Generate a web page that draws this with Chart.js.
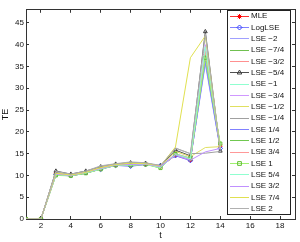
<!DOCTYPE html>
<html><head><meta charset="utf-8">
<script src="https://cdn.jsdelivr.net/npm/chart.js@4"></script>
<style>html,body{margin:0;padding:0;background:#fff}#wrap{width:300px;height:242px}</style>
</head><body><div id="wrap"><canvas id="c" width="300" height="242"></canvas></div>
<script>
// ---- data ----
const tValues = [1,2,3,4,5,6,7,8,9,10,11,12,13,14];
const xTickLabels = [2,4,6,8,10,12,14,16,18];
const yTickLabels = [0,5,10,15,20,25,30,35,40,45];
const seriesNames = ['MLE','LogLSE','LSE \u22122','LSE \u22127/4','LSE \u22123/2','LSE \u22125/4','LSE \u22121','LSE \u22123/4','LSE \u22121/2','LSE \u22121/4','LSE 1/4','LSE 1/2','LSE 3/4','LSE 1','LSE 5/4','LSE 3/2','LSE 7/4','LSE 2'];
const mle    = [0,0,10.4,10.1,10.6,11.6,12.4,12.3,12.6,12.0,14.6,13.5,37.8,16.7];
const logLse = [0,0,10.2,9.9,10.6,11.4,12.3,12.1,12.5,12.3,14.5,13.4,36.5,16.2];
const lseM2   = [0,0,10.3,10.0,10.7,11.6,12.4,12.3,12.6,11.9,14.7,13.7,35.5,16.0];
const lseM7_4 = [0,0,10.1,10.0,10.5,11.5,12.3,12.5,12.6,11.7,14.9,13.9,38.5,16.9];
const lseM3_2 = [0,0,10.3,10.1,10.7,11.7,12.5,12.4,12.7,11.9,14.8,13.8,38.0,16.5];
const lseM5_4 = [0,0,11.0,10.3,11.0,12.0,12.6,12.9,12.8,12.2,15.8,14.5,43.0,15.6];
const lseM1   = [0,0,10.4,10.0,10.6,11.6,12.4,12.5,12.6,12.0,14.9,13.9,39.0,16.4];
const lseM3_4 = [0,0,10.3,10.0,10.7,11.8,12.5,12.6,12.7,12.0,15.0,14.0,40.0,16.3];
const lseM1_2 = [0,0,10.4,10.1,10.6,11.8,12.5,12.7,12.7,12.1,15.5,14.3,16.4,16.6];
const lseM1_4 = [0,0,10.8,10.2,10.9,12.1,12.6,13.0,12.8,12.2,16.3,15.0,15.1,15.5];
const lseP1_4 = [0,0,10.2,9.9,10.5,11.5,12.3,12.2,12.5,12.1,14.6,13.6,36.0,16.1];
const lseP1_2 = [0,0,10.1,9.9,10.5,11.5,12.4,12.4,12.6,11.8,14.8,13.8,37.5,16.8];
const lseP3_4 = [0,0,10.3,10.0,10.6,11.6,12.4,12.4,12.6,11.9,14.7,13.7,38.5,16.6];
const lseP1   = [0,0,10.0,9.9,10.5,11.4,12.3,12.3,12.5,11.7,14.9,13.9,37.0,17.3];
const lseP5_4 = [0,0,10.2,10.0,10.6,11.5,12.4,12.4,12.6,11.8,14.8,13.8,39.5,16.5];
const lseP3_2 = [0,0,10.3,10.0,10.7,11.6,12.4,12.5,12.6,12.0,14.7,13.5,15.4,16.2];
const lseP7_4 = [0,0,10.5,10.1,10.7,11.8,12.5,12.8,12.7,12.2,16.5,37.0,42.0,16.0];
const lseP2   = [0,0,10.9,10.3,11.0,12.2,12.7,13.1,12.9,12.3,16.2,15.0,42.5,15.7];

const seriesValues = [mle,logLse,lseM2,lseM7_4,lseM3_2,lseM5_4,lseM1,lseM3_4,lseM1_2,lseM1_4,lseP1_4,lseP1_2,lseP3_4,lseP1,lseP5_4,lseP3_2,lseP7_4,lseP2];

// ---- styles ----
const lineColors = ['#ff3030','#8080ff','#a0a0ff','#70c050','#ff9090','#505050','#90ffd0','#d098ff','#e0e060','#a0a0a0','#8080ff','#70c850','#ff9898','#a0f070','#90ffd0','#c090ff','#e0e050','#b0b0b0'];
const markerStyles = {0:'star',1:'rectRot',5:'triangle',13:'rect'};
const markerColors = {0:'#ff0000',1:'#3040ff',5:'#404040',13:'#60c030'};

const FONT = '"Liberation Sans", Arial, sans-serif';
const N = seriesValues.length;

const datasets = seriesValues.map((vals, i) => ({
  label: seriesNames[i],
  data: vals.map((v, k) => ({x: tValues[k], y: v})),
  borderColor: lineColors[i],
  backgroundColor: lineColors[i],
  borderWidth: 1,
  pointStyle: markerStyles[i] || 'circle',
  pointRadius: markerStyles[i] ? 2.2 : 0,
  pointBorderColor: markerColors[i] || lineColors[i],
  pointBackgroundColor: 'rgba(0,0,0,0)',
  pointBorderWidth: 1,
  tension: 0,
  order: N - i
}));

function drawMarker(ctx, style, x, y, r, color) {
  ctx.save();
  ctx.strokeStyle = color; ctx.lineWidth = 1;
  ctx.beginPath();
  if (style === 'rectRot') {
    ctx.moveTo(x, y - r); ctx.lineTo(x + r, y); ctx.lineTo(x, y + r); ctx.lineTo(x - r, y); ctx.closePath();
  } else if (style === 'triangle') {
    ctx.moveTo(x, y - r); ctx.lineTo(x + r * 0.9, y + r * 0.6); ctx.lineTo(x - r * 0.9, y + r * 0.6); ctx.closePath();
  } else if (style === 'rect') {
    ctx.rect(x - r * 0.75, y - r * 0.75, r * 1.5, r * 1.5);
  } else if (style === 'star') {
    ctx.moveTo(x - r, y); ctx.lineTo(x + r, y);
    ctx.moveTo(x, y - r); ctx.lineTo(x, y + r);
    ctx.moveTo(x - r * 0.7, y - r * 0.7); ctx.lineTo(x + r * 0.7, y + r * 0.7);
    ctx.moveTo(x - r * 0.7, y + r * 0.7); ctx.lineTo(x + r * 0.7, y - r * 0.7);
  }
  ctx.stroke();
  ctx.restore();
}

const boxLegend = {
  id: 'boxLegend',
  afterDatasetsDraw(chart) {
    const ctx = chart.ctx;
    const bx = 227.5, by = 10.5, bw = 63, bh = 204;
    ctx.save();
    ctx.fillStyle = '#ffffff';
    ctx.fillRect(bx, by, bw, bh);
    ctx.strokeStyle = '#222222'; ctx.lineWidth = 1;
    ctx.strokeRect(bx, by, bw, bh);
    ctx.font = '8px ' + FONT;
    ctx.textBaseline = 'middle';
    ctx.textAlign = 'left';
    chart.data.datasets.forEach((ds, i) => {
      const y = 15.7 + i * 11.33;
      const ly = Math.round(y) + 0.5;
      ctx.strokeStyle = ds.borderColor; ctx.lineWidth = 1;
      ctx.beginPath(); ctx.moveTo(230, ly); ctx.lineTo(249, ly); ctx.stroke();
      if (markerStyles[i]) drawMarker(ctx, markerStyles[i], 239.5, ly, 2.5, markerColors[i]);
      ctx.fillStyle = '#111111';
      ctx.fillText(ds.label, 251, y + 0.5);
    });
    ctx.restore();
  }
};

const axisColor = '#333333';
const gridCommon = { drawOnChartArea: false, drawTicks: true, tickLength: -3, color: axisColor, lineWidth: 1 };
const borderCommon = { display: true, color: axisColor, width: 1 };

new Chart(document.getElementById('c'), {
  type: 'line',
  data: { datasets },
  plugins: [boxLegend],
  options: {
    responsive: false,
    animation: false,
    devicePixelRatio: 1,
    layout: { padding: { left: 0, right: 4, top: 5, bottom: 0 } },
    plugins: { legend: { display: false }, tooltip: { enabled: false } },
    elements: { line: { tension: 0 } },
    scales: {
      x: {
        type: 'linear', position: 'bottom', min: 1, max: 19,
        afterBuildTicks: s => { s.ticks = xTickLabels.map(v => ({ value: v })); },
        afterFit: s => { s.height = 23; },
        ticks: { font: { size: 8, family: FONT }, color: '#111', padding: 5, maxRotation: 0, autoSkip: false },
        grid: gridCommon, border: borderCommon,
        title: { display: true, text: 't', font: { size: 9, family: FONT }, color: '#111', padding: { top: 0, bottom: 1 } }
      },
      x2: {
        type: 'linear', axis: 'x', position: 'top', min: 1, max: 19,
        afterBuildTicks: s => { s.ticks = xTickLabels.map(v => ({ value: v })); },
        afterFit: s => { s.height = 0; },
        ticks: { display: false },
        grid: gridCommon, border: borderCommon
      },
      y: {
        type: 'linear', position: 'left', min: 0, max: 48,
        afterBuildTicks: s => { s.ticks = yTickLabels.map(v => ({ value: v })); },
        afterFit: s => { s.width = 26; },
        ticks: { font: { size: 8, family: FONT }, color: '#111', padding: 5 },
        grid: gridCommon, border: borderCommon,
        title: { display: true, text: 'TE', font: { size: 9, family: FONT }, color: '#111', padding: { top: 0, bottom: 0 } }
      },
      y2: {
        type: 'linear', axis: 'y', position: 'right', min: 0, max: 48,
        afterBuildTicks: s => { s.ticks = yTickLabels.map(v => ({ value: v })); },
        afterFit: s => { s.width = 0; },
        ticks: { display: false },
        grid: gridCommon, border: borderCommon
      }
    }
  }
});
</script></body></html>
